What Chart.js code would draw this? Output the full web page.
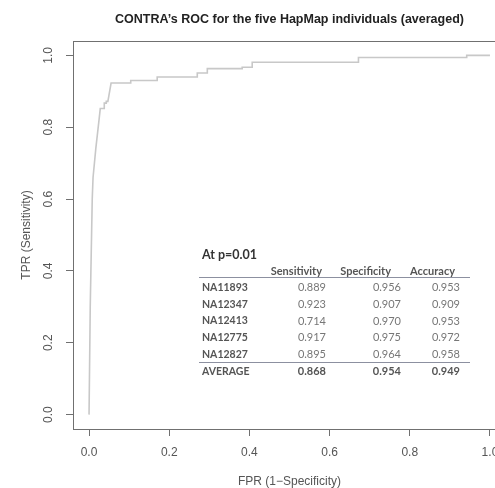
<!DOCTYPE html>
<html>
<head>
<meta charset="utf-8">
<script src="https://cdn.jsdelivr.net/npm/chart.js@4/dist/chart.umd.min.js"></script>
<style>
  html, body { margin: 0; padding: 0; background: #fff; }
  #wrap { width: 495px; height: 488px; overflow: hidden; position: relative; }
</style>
</head>
<body>
<div id="wrap"><canvas id="roc" width="520" height="488"></canvas></div>
<script>
//  ROC curve points (FPR, TPR)
const fpr = [0, 0.003, 0.008, 0.010, 0.017, 0.025, 0.028, 0.038, 0.038, 0.043, 0.043, 0.047, 0.055,
             0.104, 0.104, 0.170, 0.170, 0.270, 0.270, 0.295, 0.295, 0.382, 0.382, 0.407, 0.407,
             0.672, 0.672, 0.942, 0.942, 1.0];
const tpr = [0, 0.30, 0.60, 0.66, 0.742, 0.821, 0.852, 0.852, 0.867, 0.867, 0.872, 0.872, 0.923,
             0.923, 0.930, 0.930, 0.940, 0.940, 0.951, 0.951, 0.963, 0.963, 0.967, 0.967, 0.981,
             0.981, 0.994, 0.994, 1.0, 1.0];

const xTicks = [0, 0.2, 0.4, 0.6, 0.8, 1.0];
const yTicks = [0, 0.2, 0.4, 0.6, 0.8, 1.0];

//  Inset table at p=0.01
const samples = ['NA11893', 'NA12347', 'NA12413', 'NA12775', 'NA12827'];
const sensitivity = [0.889, 0.923, 0.714, 0.917, 0.895];
const specificity = [0.956, 0.907, 0.970, 0.975, 0.964];
const accuracy = [0.953, 0.909, 0.953, 0.972, 0.958];
const averageRow = [0.868, 0.954, 0.949];
const columns = ['Sensitivity', 'Specificity', 'Accuracy'];

const AXIS_FONT = '"Liberation Sans", Arial, sans-serif';
const TABLE_FONT = 'Lato, "Open Sans", sans-serif';

function fixed_ticks(list) {
    return function (scale) {
        scale.ticks = list.map(v => ({ value: v }));
    };
}

function draw_table(ctx) {
    const left = 202, lineL = 199, lineR = 470;
    const colRight = [326, 401, 460];
    const headRight = [322, 391, 455];
    const rowY = [287.7, 304.4, 321, 337.7, 354.4];
    ctx.save();
    ctx.textBaseline = 'middle';

    ctx.fillStyle = '#333';
    ctx.font = 'bold 12.5px ' + TABLE_FONT;
    ctx.textAlign = 'left';
    ctx.fillText('At p=0.01', left, 255);

    ctx.fillStyle = '#555';
    ctx.font = 'bold 11px ' + TABLE_FONT;
    ctx.textAlign = 'right';
    columns.forEach((c, i) => ctx.fillText(c, headRight[i], 271.5));

    ctx.strokeStyle = '#8c90a0';
    ctx.lineWidth = 1;
    ctx.beginPath();
    ctx.moveTo(lineL, 277.5); ctx.lineTo(lineR, 277.5);
    ctx.moveTo(lineL, 362.5); ctx.lineTo(lineR, 362.5);
    ctx.stroke();

    samples.forEach((s, r) => {
        ctx.font = 'bold 10.5px ' + TABLE_FONT;
        ctx.fillStyle = '#555';
        ctx.textAlign = 'left';
        ctx.fillText(s, left, rowY[r]);
        ctx.font = '11px ' + TABLE_FONT;
        ctx.fillStyle = '#777';
        ctx.textAlign = 'right';
        [sensitivity[r], specificity[r], accuracy[r]].forEach((v, i) => {
            ctx.fillText(v.toFixed(3), colRight[i], rowY[r]);
        });
    });

    ctx.font = 'bold 10.5px ' + TABLE_FONT;
    ctx.fillStyle = '#555';
    ctx.textAlign = 'left';
    ctx.fillText('AVERAGE', left, 371.5);
    ctx.font = 'bold 11px ' + TABLE_FONT;
    ctx.textAlign = 'right';
    averageRow.forEach((v, i) => ctx.fillText(v.toFixed(3), colRight[i], 371.5));
    ctx.restore();
}

//  Box, titles, rotated y labels and the inset table
const decor = {
    id: 'decor',
    afterDraw(chart) {
        const ctx = chart.ctx;
        const a = chart.chartArea;
        const cx = (a.left + a.right) / 2;
        const cy = (a.top + a.bottom) / 2;
        ctx.save();
        ctx.strokeStyle = '#707070';
        ctx.lineWidth = 1;
        ctx.strokeRect(Math.round(a.left) + 0.5, Math.round(a.top) + 0.5,
                       Math.round(a.right - a.left), Math.round(a.bottom - a.top));

        ctx.fillStyle = '#222';
        ctx.font = 'bold 12.5px ' + AXIS_FONT;
        ctx.textAlign = 'center';
        ctx.textBaseline = 'middle';
        ctx.fillText('CONTRA\u2019s ROC for the five HapMap individuals (averaged)', cx, 20);

        ctx.fillStyle = '#555';
        ctx.font = '12px ' + AXIS_FONT;
        ctx.fillText('FPR (1\u2212Specificity)', cx, 482);

        const ys = chart.scales.y;
        yTicks.forEach(v => {
            ctx.save();
            ctx.translate(49, ys.getPixelForValue(v));
            ctx.rotate(-Math.PI / 2);
            ctx.fillText(v.toFixed(1), 0, 0);
            ctx.restore();
        });
        ctx.save();
        ctx.translate(27, cy);
        ctx.rotate(-Math.PI / 2);
        ctx.fillText('TPR (Sensitivity)', 0, 0);
        ctx.restore();

        ctx.restore();
        draw_table(ctx);
    }
};

new Chart(document.getElementById('roc'), {
    type: 'line',
    data: {
        datasets: [{
            data: fpr.map((x, i) => ({ x: x, y: tpr[i] })),
            borderColor: '#c8c8c8',
            borderWidth: 1.6,
            pointRadius: 0,
            tension: 0,
            fill: false
        }]
    },
    options: {
        responsive: false,
        animation: false,
        layout: { padding: { top: 41, right: 14, left: 0, bottom: 0 } },
        plugins: { legend: { display: false }, tooltip: { enabled: false } },
        scales: {
            x: {
                type: 'linear',
                min: -0.04, max: 1.04,
                afterBuildTicks: fixed_ticks(xTicks),
                afterFit(scale) { scale.height = 59; },
                border: { display: false },
                grid: { drawOnChartArea: false, tickLength: 7, color: '#707070' },
                ticks: {
                    color: '#555',
                    font: { family: AXIS_FONT, size: 12 },
                    padding: 9,
                    maxRotation: 0,
                    callback: v => v.toFixed(1)
                }
            },
            y: {
                type: 'linear',
                min: -0.04, max: 1.04,
                afterBuildTicks: fixed_ticks(yTicks),
                afterFit(scale) { scale.width = 73; },
                border: { display: false },
                grid: { drawOnChartArea: false, tickLength: 7, color: '#707070' },
                ticks: { display: false }
            }
        }
    },
    plugins: [decor]
});
</script>
</body>
</html>
